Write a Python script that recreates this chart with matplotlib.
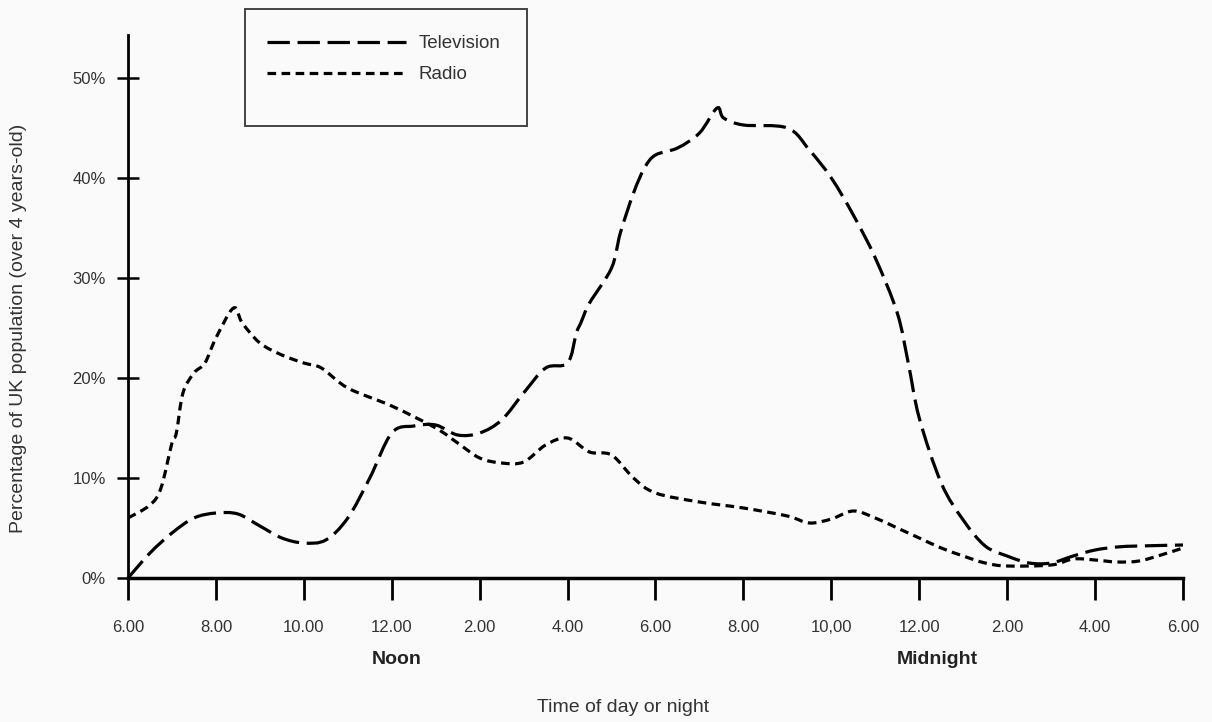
import matplotlib
matplotlib.use('agg')
import matplotlib.pyplot as plt
from matplotlib.path import Path
from matplotlib.patches import PathPatch, Rectangle
from matplotlib.lines import Line2D

# hours after 6.00 am (0 = 6.00, 24 = 6.00 next morning)
tv_hours = [0, 0.5, 1.0, 1.5, 2.0, 2.5, 3.0, 3.5, 4.0, 4.5, 5.0, 5.5, 6.0, 6.5,
            7.0, 7.5, 8.0, 8.5, 9.0, 9.5, 10.0, 10.2, 10.3, 10.5, 11.0, 11.2,
            11.5, 11.75, 12.0, 12.5, 13.0, 13.4, 13.55, 14.0, 15.0, 15.5, 16.0,
            16.5, 17.0, 17.5, 17.75, 18.0, 18.5, 19.0, 19.5, 20.0, 20.5, 21.0,
            21.5, 22.0, 22.5, 23.0, 24.0]
tv_values = [0, 2.5, 4.5, 6.0, 6.5, 6.4, 5.2, 4.0, 3.5, 3.8, 6.0, 10.0, 14.5, 15.2,
             15.3, 14.3, 14.5, 15.8, 18.5, 21.0, 21.5, 24.5, 25.5, 27.5, 31.0, 34.5,
             38.5, 41.0, 42.3, 43.0, 44.5, 47.0, 46.0, 45.3, 45.0, 42.8, 40.0,
             36.3, 32.0, 26.5, 21.5, 16.0, 9.5, 5.8, 3.2, 2.2, 1.5, 1.5,
             2.2, 2.8, 3.1, 3.2, 3.3]

radio_hours = [0, 0.5, 0.75, 1.0, 1.1, 1.25, 1.5, 1.75, 2.0, 2.4, 2.6, 3.0, 3.5,
               4.0, 4.4, 5.0, 6.0, 7.0, 7.5, 8.0, 8.5, 9.0, 9.5, 10.0, 10.5, 11.0,
               11.5, 12.0, 13.0, 14.0, 15.0, 15.5, 16.0, 16.5, 17.0, 17.5, 18.0,
               18.5, 19.0, 19.5, 20.0, 21.0, 21.5, 22.0, 22.5, 23.0, 23.5, 24.0]
radio_values = [6.0, 7.3, 9.0, 13.5, 14.5, 18.5, 20.5, 21.5, 24.0, 27.0, 25.5, 23.5, 22.3,
                21.5, 21.0, 19.0, 17.2, 15.0, 13.5, 12.0, 11.5, 11.6, 13.3, 14.0, 12.6, 12.3,
                10.0, 8.5, 7.6, 7.0, 6.2, 5.5, 5.9, 6.7, 6.0, 5.0, 4.0,
                3.0, 2.2, 1.5, 1.2, 1.3, 1.9, 1.8, 1.6, 1.7, 2.3, 3.0]

tick_hours = list(range(0, 25, 2))
tick_labels = ['6.00', '8.00', '10.00', '12.00', '2.00', '4.00', '6.00',
               '8.00', '10,00', '12.00', '2.00', '4.00', '6.00']
pct_ticks = [0, 10, 20, 30, 40, 50]
pct_labels = ['0%', '10%', '20%', '30%', '40%', '50%']


def smooth_path(xs, ys):
    # catmull-rom through the read points, as cubic bezier segments
    pts = list(zip(xs, ys))
    verts = [pts[0]]
    codes = [Path.MOVETO]
    n = len(pts)
    for i in range(n - 1):
        p0 = pts[max(i - 1, 0)]
        p1 = pts[i]
        p2 = pts[i + 1]
        p3 = pts[min(i + 2, n - 1)]
        c1 = (p1[0] + (p2[0] - p0[0]) / 6, p1[1] + (p2[1] - p0[1]) / 6)
        c2 = (p2[0] - (p3[0] - p1[0]) / 6, p2[1] - (p3[1] - p1[1]) / 6)
        verts += [c1, c2, p2]
        codes += [Path.CURVE4] * 3
    return Path(verts, codes)


plt.rcParams['font.family'] = ['Liberation Sans', 'DejaVu Sans']
txt = '#333333'

fig = plt.figure(figsize=(12.12, 7.22), dpi=100)
fig.patch.set_facecolor('#fafafa')
ax = fig.add_axes([128 / 1212, 1 - 578 / 722, (1183 - 128) / 1212, 543 / 722])
ax.set_facecolor('#fafafa')

tv_style = (0, (7, 2.4))
radio_style = (0, (2.7, 1.7))
ax.add_patch(PathPatch(smooth_path(tv_hours, tv_values), fill=False,
                       edgecolor='black', lw=2.3, linestyle=tv_style))
ax.add_patch(PathPatch(smooth_path(radio_hours, radio_values), fill=False,
                       edgecolor='black', lw=2.3, linestyle=radio_style))

ax.set_xlim(0, 24)
ax.set_ylim(0, 54.3)
for s in ['top', 'right']:
    ax.spines[s].set_visible(False)
ax.spines['left'].set_linewidth(2)
ax.spines['bottom'].set_linewidth(2.5)

ax.set_xticks(tick_hours)
ax.set_xticklabels(tick_labels, fontsize=12, color=txt)
ax.set_yticks(pct_ticks)
ax.set_yticklabels(pct_labels, fontsize=12, color=txt)
ax.tick_params(axis='x', direction='out', length=16, width=2, pad=14)
ax.tick_params(axis='y', direction='inout', length=16, width=1.8, pad=8)

fig.text(623 / 1212, 1 - 708 / 722, 'Time of day or night', fontsize=14,
         color=txt, ha='center', va='center')
fig.text(19 / 1212, 1 - 328 / 722, 'Percentage of UK population (over 4 years-old)',
         fontsize=14, color=txt, rotation=90, ha='center', va='center')
fig.text(397 / 1212, 1 - 660 / 722, 'Noon', fontsize=14, fontweight='bold',
         color='#222222', ha='center', va='center')
fig.text(937 / 1212, 1 - 660 / 722, 'Midnight', fontsize=14, fontweight='bold',
         color='#222222', ha='center', va='center')

# legend box
fig.patches.append(Rectangle((245 / 1212, 1 - 126 / 722), 282 / 1212, 117 / 722,
                             transform=fig.transFigure, fill=False,
                             edgecolor='#444444', lw=1.4))
handles = [Line2D([], [], color='black', lw=2.3, linestyle=tv_style),
           Line2D([], [], color='black', lw=2.3, linestyle=radio_style)]
leg = fig.legend(handles, ['Television', 'Radio'], loc='upper left',
                 bbox_to_anchor=(267 / 1212, 1 - 35 / 722), fontsize=13.5,
                 frameon=False, handlelength=7.4, borderpad=0, labelspacing=0.75,
                 handletextpad=0.7, borderaxespad=0)
for t in leg.get_texts():
    t.set_color(txt)

fig.savefig('out.png', dpi=100, facecolor=fig.get_facecolor())
